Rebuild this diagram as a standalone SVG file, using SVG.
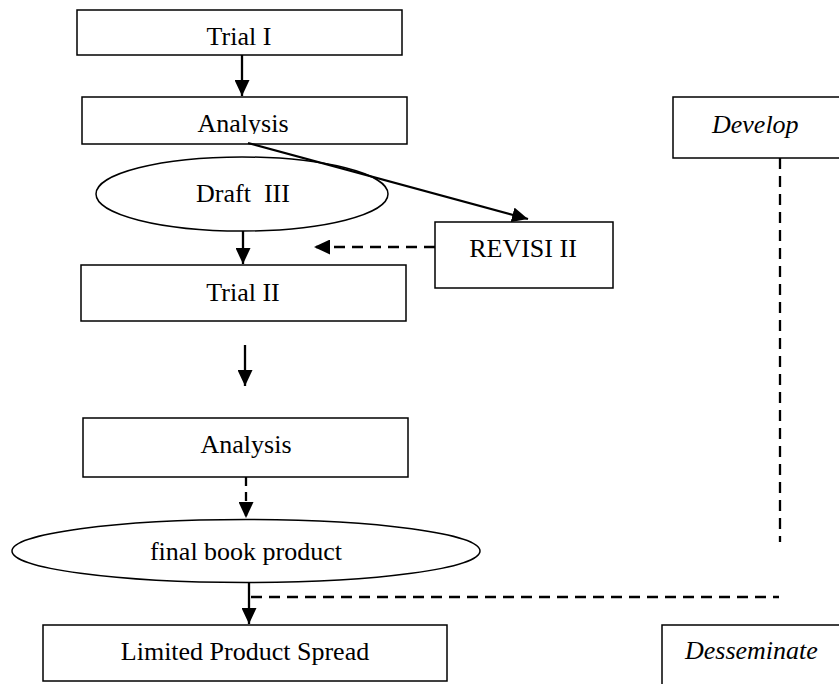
<svg xmlns="http://www.w3.org/2000/svg" width="839" height="684" viewBox="0 0 839 684">
<style>
.box{fill:#fff;stroke:#000;stroke-width:1.5}
.ell{fill:#fff;stroke:#000;stroke-width:1.5}
.t{font-family:"Liberation Serif","Times New Roman",serif;font-size:26px;fill:#000;text-anchor:middle}
.ti{font-family:"Liberation Serif","Times New Roman",serif;font-size:26px;font-style:italic;fill:#000}
.c{stroke:#000;stroke-width:2.3;fill:none}
.d{stroke-dasharray:11,7}
</style>
<defs>
<marker id="ah" markerUnits="userSpaceOnUse" markerWidth="16" markerHeight="15" refX="16" refY="7.5" orient="auto">
<path d="M0,0 L16,7.5 L0,15 z" fill="#000"/>
</marker>
<clipPath id="clipA"><rect x="82" y="97" width="325" height="37"/></clipPath>
</defs>
<rect width="839" height="684" fill="#fff"/>
<g id="trial1"><rect class="box" x="77" y="10" width="325" height="45"/><text class="t" x="239" y="45">Trial I</text></g>
<g id="analysis1"><rect class="box" x="82" y="97" width="325" height="47"/><text class="t" x="243" y="132" clip-path="url(#clipA)">Analysis</text></g>
<g id="draft3"><ellipse class="ell" cx="242" cy="194" rx="146" ry="37"/><text class="t" x="243" y="202" xml:space="preserve">Draft  III</text></g>
<g id="revisi2"><rect class="box" x="435" y="222" width="178" height="66"/><text class="t" x="523" y="257">REVISI II</text></g>
<g id="trial2"><rect class="box" x="81" y="265" width="325" height="56"/><text class="t" x="243" y="301">Trial II</text></g>
<g id="analysis2"><rect class="box" x="83" y="418" width="325" height="59"/><text class="t" x="246" y="453">Analysis</text></g>
<g id="final"><ellipse class="ell" cx="246" cy="551" rx="234" ry="31.5"/><text class="t" x="246" y="560">final book product</text></g>
<g id="limited"><rect class="box" x="43" y="625" width="404" height="56"/><text class="t" x="245" y="660">Limited Product Spread</text></g>
<g id="develop"><rect class="box" x="673" y="97" width="175" height="61"/><text class="ti" x="712" y="133">Develop</text></g>
<g id="desseminate"><rect class="box" x="662" y="625" width="186" height="70"/><text class="ti" x="685" y="659">Desseminate</text></g>
<g id="connectors">
<line class="c" x1="242" y1="55" x2="242" y2="96" marker-end="url(#ah)"/>
<line class="c" x1="248" y1="143" x2="528" y2="219" marker-end="url(#ah)"/>
<line class="c" x1="243" y1="231" x2="243" y2="264" marker-end="url(#ah)"/>
<line class="c d" x1="435" y1="247" x2="314" y2="247" marker-end="url(#ah)"/>
<line class="c" x1="245" y1="345" x2="245" y2="386" marker-end="url(#ah)"/>
<line class="c" x1="246" y1="477" x2="246" y2="518" marker-end="url(#ah)" stroke-dasharray="9,6"/>
<line class="c" x1="249" y1="583" x2="249" y2="624" marker-end="url(#ah)"/>
<line class="c d" x1="251" y1="597" x2="779" y2="597"/>
<line class="c d" x1="780" y1="158" x2="780" y2="542"/>
</g>
</svg>
